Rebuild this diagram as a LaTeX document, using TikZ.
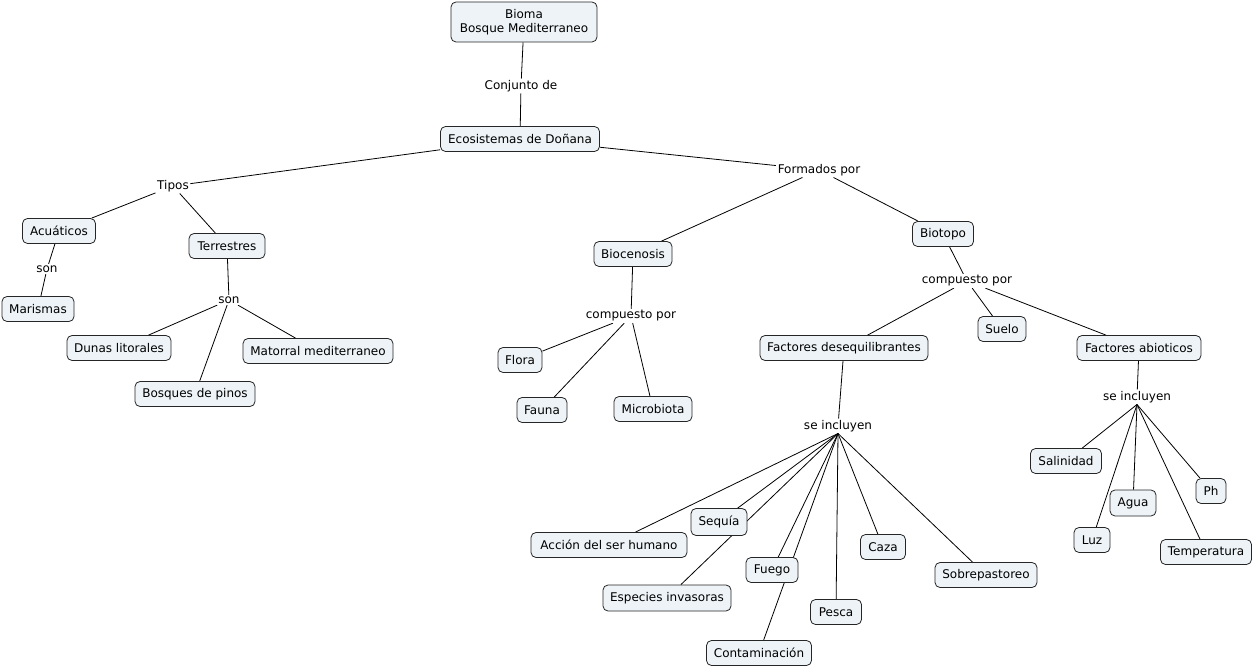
\documentclass[tikz,border=0pt]{standalone}
\usepackage{fontspec}
\setmainfont{DejaVu Sans}
\pgfdeclarelayer{bg}
\pgfsetlayers{bg,main}
\begin{document}
\begin{tikzpicture}[x=1pt,y=-1pt,
  concept/.style={draw=black!85, fill=cfill, rounded corners=5pt, line width=0.8pt,
    inner sep=0pt, minimum height=25pt, align=center, font=\fontsize{12}{14}\selectfont},
  lnk/.style={inner sep=1.5pt, font=\fontsize{12}{14}\selectfont, fill=white},
  conn/.style={draw=black, line width=0.8pt}]
\definecolor{cfill}{HTML}{EDF3F6}
\useasboundingbox (0,0) rectangle (1254,668);
% concepts
\node[concept, minimum width=146pt, minimum height=40pt] (bioma) at (524,22) {Bioma\\Bosque Mediterraneo};
\node[concept, minimum width=159pt] (eco) at (520,139) {Ecosistemas de Doñana};
\node[concept, minimum width=73pt] (acu) at (59,231) {Acuáticos};
\node[concept, minimum width=76pt] (ter) at (227,246) {Terrestres};
\node[concept, minimum width=72pt] (mar) at (38,309) {Marismas};
\node[concept, minimum width=104pt] (dun) at (119,348) {Dunas litorales};
\node[concept, minimum width=150pt] (mat) at (318,351) {Matorral mediterraneo};
\node[concept, minimum width=120pt] (bos) at (195,394) {Bosques de pinos};
\node[concept, minimum width=78pt] (bioc) at (633,254) {Biocenosis};
\node[concept, minimum width=61pt] (biot) at (943,234) {Biotopo};
\node[concept, minimum width=44pt] (flo) at (520,360) {Flora};
\node[concept, minimum width=50pt] (fau) at (542,410) {Fauna};
\node[concept, minimum width=78pt] (mic) at (653,409) {Microbiota};
\node[concept, minimum width=168pt] (fd) at (844,348) {Factores desequilibrantes};
\node[concept, minimum width=48pt] (sue) at (1002,329) {Suelo};
\node[concept, minimum width=124pt] (fa) at (1139,348) {Factores abioticos};
\node[concept, minimum width=156pt] (acc) at (609,545) {Acción del ser humano};
\node[concept, minimum width=56pt, minimum height=27pt] (seq) at (719,522) {Sequía};
\node[concept, minimum width=128pt, minimum height=26pt] (esp) at (667,598) {Especies invasoras};
\node[concept, minimum width=52pt] (fue) at (772,570) {Fuego};
\node[concept, minimum width=105pt] (con) at (759,653) {Contaminación};
\node[concept, minimum width=51pt] (pes) at (836,612) {Pesca};
\node[concept, minimum width=45pt] (caz) at (883,547) {Caza};
\node[concept, minimum width=102pt] (sob) at (986,575) {Sobrepastoreo};
\node[concept, minimum width=71pt] (sal) at (1066,461) {Salinidad};
\node[concept, minimum width=46pt, minimum height=26pt] (agu) at (1133,503) {Agua};
\node[concept, minimum width=30pt] (ph) at (1211,491) {Ph};
\node[concept, minimum width=36pt] (luz) at (1092,540) {Luz};
\node[concept, minimum width=91pt] (tem) at (1206,552) {Temperatura};
% linking phrases
\node[lnk] (l1) at (521,86) {Conjunto de};
\node[lnk] (l2) at (173,186) {Tipos};
\node[lnk] (l3) at (819,170) {Formados por};
\node[lnk] (l4) at (47,269) {son};
\node[lnk] (l5) at (229,300) {son};
\node[lnk] (l6) at (631,316) {compuesto por};
\node[lnk] (l7) at (967,281) {compuesto por};
\node[lnk] (l8) at (838,426) {se incluyen};
\node[lnk] (l9) at (1137,397) {se incluyen};
% connectors
\begin{pgfonlayer}{bg}
\draw[conn] (bioma) -- (l1); \draw[conn] (l1) -- (eco);
\draw[conn] (eco) -- (l2); \draw[conn] (l2) -- (acu); \draw[conn] (l2) -- (ter);
\draw[conn] (eco) -- (l3); \draw[conn] (l3) -- (bioc); \draw[conn] (l3) -- (biot);
\draw[conn] (acu) -- (l4); \draw[conn] (l4) -- (mar);
\draw[conn] (ter) -- (l5); \draw[conn] (l5) -- (dun); \draw[conn] (l5) -- (mat); \draw[conn] (l5) -- (bos);
\draw[conn] (bioc) -- (l6); \draw[conn] (l6) -- (flo); \draw[conn] (l6) -- (fau); \draw[conn] (l6) -- (mic);
\draw[conn] (biot) -- (l7); \draw[conn] (l7) -- (fd); \draw[conn] (l7) -- (sue); \draw[conn] (l7) -- (fa);
\draw[conn] (fd) -- (l8);
\foreach \t in {acc,seq,esp,fue,con,pes,caz,sob} \draw[conn] (l8.south) -- (\t);
\draw[conn] (fa) -- (l9);
\foreach \t in {sal,agu,ph,luz,tem} \draw[conn] (l9.south) -- (\t);
\end{pgfonlayer}
\end{tikzpicture}
\end{document}
